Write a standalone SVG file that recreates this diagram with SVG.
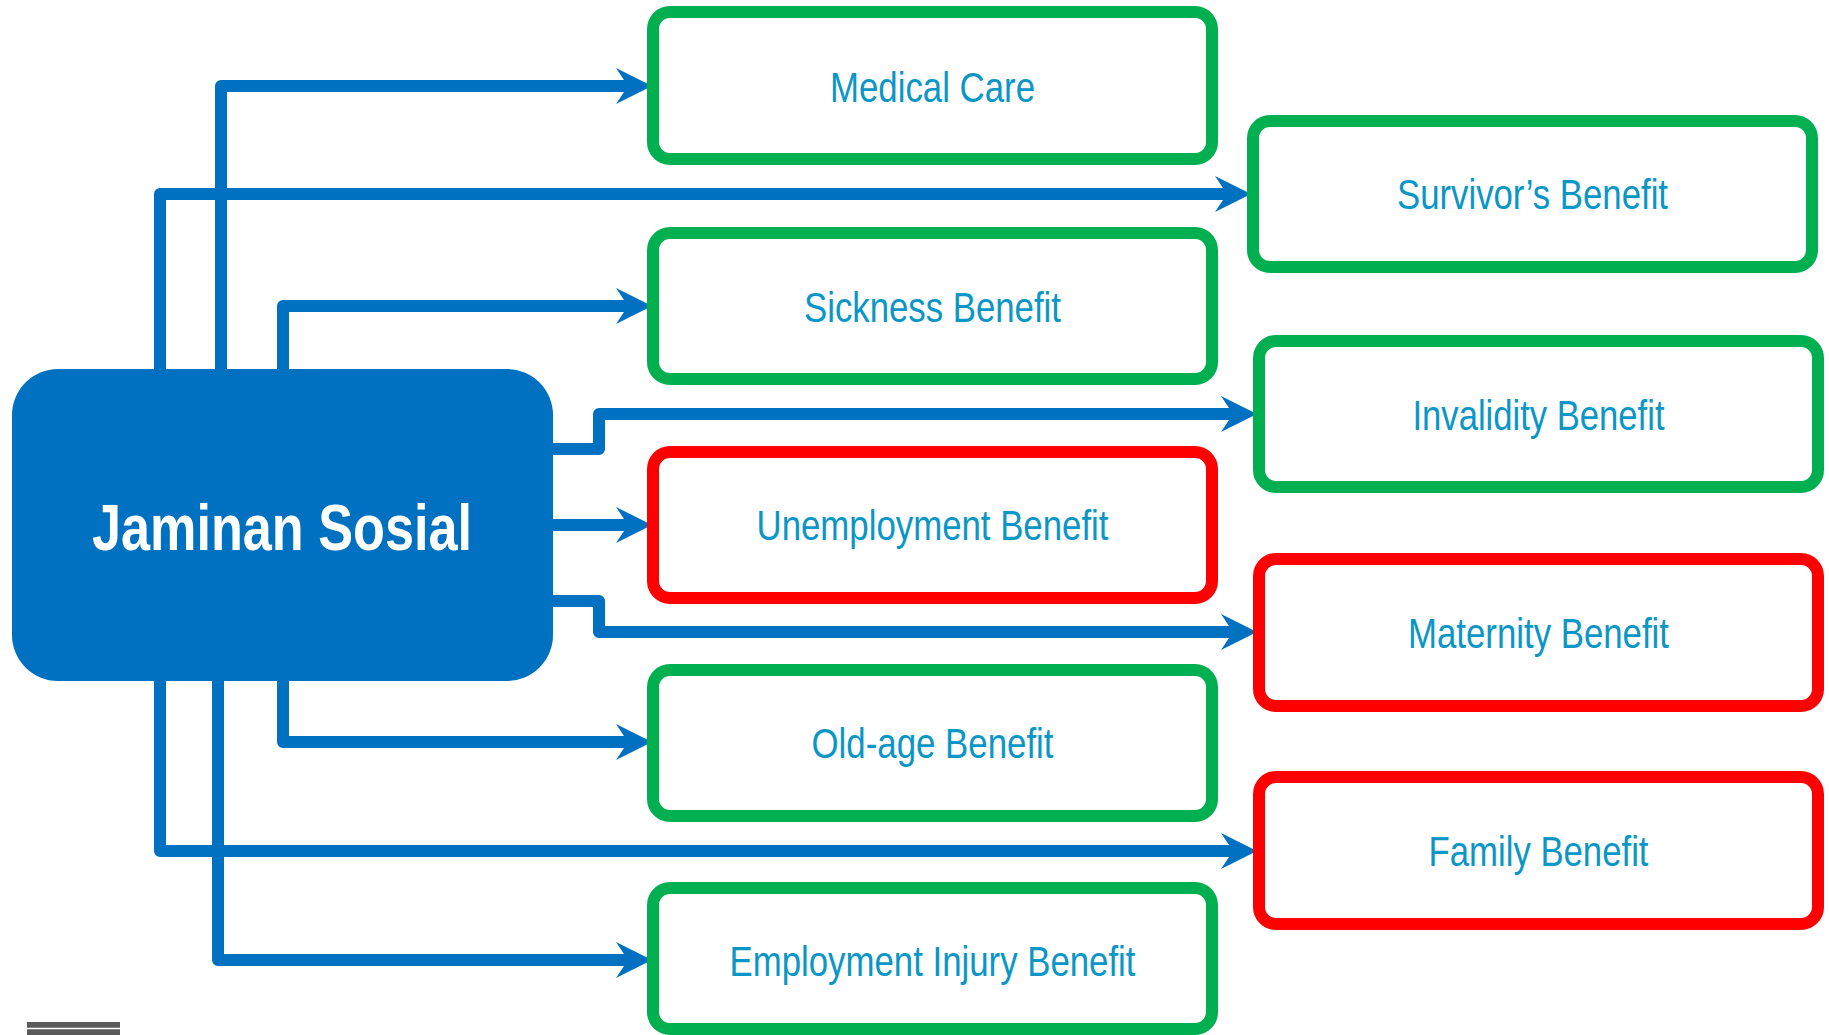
<svg xmlns="http://www.w3.org/2000/svg" width="1829" height="1035" viewBox="0 0 1829 1035">
<style>
.conn{fill:none;stroke:#0070C0;stroke-width:12;stroke-linejoin:round;marker-end:url(#arr)}
.box{fill:#FFFFFF;stroke-width:12}
.g{stroke:#00B050}
.r{stroke:#FF0000}
.lbl{font-family:"Liberation Sans",Arial,sans-serif;font-size:42px;fill:#0A96C6;text-anchor:middle}
.main{font-family:"Liberation Sans",Arial,sans-serif;font-size:64px;font-weight:bold;fill:#FFFFFF;text-anchor:middle}
</style>
<defs>
<marker id="arr" viewBox="0 0 36 36" refX="12" refY="18" markerWidth="36" markerHeight="36" markerUnits="userSpaceOnUse" orient="auto" overflow="visible">
<path d="M0,0 L36,18 L0,36 L12,18 Z" fill="#0070C0"/>
</marker>
</defs>
<rect width="1829" height="1035" fill="#FFFFFF"/>
<g id="connectors">
<path class="conn" d="M221 369 V86 H628"/>
<path class="conn" d="M160 369 V194 H1227"/>
<path class="conn" d="M283 369 V306 H628"/>
<path class="conn" d="M553 449 H599 V414 H1233"/>
<path class="conn" d="M553 525 H628"/>
<path class="conn" d="M553 601 H599 V632 H1233"/>
<path class="conn" d="M283 681 V742 H628"/>
<path class="conn" d="M160 681 V851 H1233"/>
<path class="conn" d="M218 681 V960 H628"/>
</g>
<g id="jaminan-sosial">
<rect x="12" y="369" width="541" height="312" rx="46" ry="46" fill="#0070C0"/>
<text class="main" x="282" y="550" textLength="380" lengthAdjust="spacingAndGlyphs">Jaminan Sosial</text>
</g>
<g id="medical-care">
<rect class="box g" x="653" y="12" width="559" height="147" rx="17"/>
<text class="lbl" x="932.5" y="102" textLength="205" lengthAdjust="spacingAndGlyphs">Medical Care</text>
</g>
<g id="survivors-benefit">
<rect class="box g" x="1253" y="121" width="559" height="146" rx="17"/>
<text class="lbl" x="1532.5" y="209" textLength="271" lengthAdjust="spacingAndGlyphs">Survivor’s Benefit</text>
</g>
<g id="sickness-benefit">
<rect class="box g" x="653" y="233" width="559" height="146" rx="17"/>
<text class="lbl" x="932.5" y="322" textLength="257" lengthAdjust="spacingAndGlyphs">Sickness Benefit</text>
</g>
<g id="invalidity-benefit">
<rect class="box g" x="1259" y="341" width="559" height="146" rx="17"/>
<text class="lbl" x="1538.5" y="430" textLength="252" lengthAdjust="spacingAndGlyphs">Invalidity Benefit</text>
</g>
<g id="unemployment-benefit">
<rect class="box r" x="653" y="452" width="559" height="146" rx="17"/>
<text class="lbl" x="932.5" y="540" textLength="352" lengthAdjust="spacingAndGlyphs">Unemployment Benefit</text>
</g>
<g id="maternity-benefit">
<rect class="box r" x="1259" y="559" width="559" height="147" rx="17"/>
<text class="lbl" x="1538.5" y="648" textLength="261" lengthAdjust="spacingAndGlyphs">Maternity Benefit</text>
</g>
<g id="old-age-benefit">
<rect class="box g" x="653" y="670" width="559" height="146" rx="17"/>
<text class="lbl" x="932.5" y="758" textLength="242" lengthAdjust="spacingAndGlyphs">Old-age Benefit</text>
</g>
<g id="family-benefit">
<rect class="box r" x="1259" y="777" width="559" height="147" rx="17"/>
<text class="lbl" x="1538.5" y="866" textLength="220" lengthAdjust="spacingAndGlyphs">Family Benefit</text>
</g>
<g id="employment-injury-benefit">
<rect class="box g" x="653" y="888" width="559" height="141" rx="17"/>
<text class="lbl" x="932.5" y="976" textLength="406" lengthAdjust="spacingAndGlyphs">Employment Injury Benefit</text>
</g>
<g id="corner-mark">
<rect x="27" y="1022" width="93" height="13" fill="#5A5A5A"/>
<line x1="27" y1="1028.5" x2="120" y2="1028.5" stroke="#FFFFFF" stroke-width="1.5"/>
</g>
</svg>
